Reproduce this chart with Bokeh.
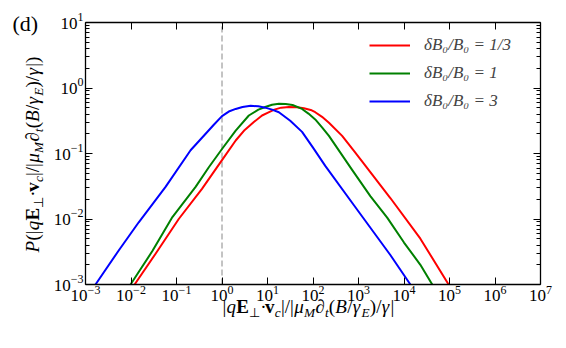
import numpy as np
from bokeh.plotting import figure
from bokeh.models import (Label, FixedTicker, LogAxis, Legend, LegendItem, Range1d,
                          PrintfTickFormatter)
from bokeh.embed import file_html
from bokeh.resources import INLINE

# ---------------- data ----------------
blue_x = [1.66e-3, 5.37e-3, 1.48e-2, 5.75e-2, 0.204, 0.437, 0.661, 1.0, 1.41, 2.0, 2.82,
          4.27, 6.31, 8.91, 12.6, 17.8, 31.6, 57.5, 100, 186, 794, 5010, 13800]
blue_y = [1.0e-3, 3.31e-3, 8.91e-3, 3.09e-2, 0.112, 0.200, 0.275, 0.372, 0.437, 0.479, 0.513,
          0.537, 0.525, 0.501, 0.468, 0.427, 0.316, 0.214, 0.123, 6.46e-2, 1.62e-2, 2.82e-3, 1.0e-3]

green_x = [9.77e-3, 2.95e-2, 8.13e-2, 0.263, 0.513, 1.0, 2.0, 3.89, 6.31, 8.91, 12.6, 17.8,
           25.1, 35.5, 57.5, 79.4, 112, 158, 224, 724, 1820, 4270, 10000, 22900, 41700]
green_y = [1.0e-3, 3.24e-3, 1.07e-2, 3.09e-2, 6.17e-2, 0.117, 0.224, 0.380, 0.468, 0.513, 0.556, 0.575,
           0.569, 0.550, 0.479, 0.407, 0.331, 0.251, 0.186, 5.62e-2, 2.24e-2, 1.05e-2, 4.37e-3,
           2.00e-3, 1.0e-3]

red_x = [1.20e-2, 3.47e-2, 0.112, 0.363, 1.0, 2.0, 3.16, 5.01, 7.59, 10.0, 14.1, 20.0, 29.5,
         44.7, 63.1, 89.1, 112, 158, 224, 437, 794, 1320, 5010, 22900, 95500]
red_y = [1.0e-3, 2.95e-3, 1.0e-2, 2.88e-2, 7.94e-2, 0.158, 0.229, 0.302, 0.380, 0.417, 0.468, 0.501,
         0.513, 0.507, 0.490, 0.462, 0.427, 0.363, 0.295, 0.186, 0.110, 6.92e-2, 2.09e-2, 5.01e-3,
         1.0e-3]

series_labels = ["δB₀/B₀ = 1/3", "δB₀/B₀ = 1", "δB₀/B₀ = 3"]
series_colors = ["#ff0000", "#008000", "#0000ff"]

x_lim = [1e-3, 1e7]
y_lim = [1e-3, 1e1]
ref_x = 1.0                      # dashed reference line
x_ticks = [1e-3, 1e-2, 1e-1, 1e0, 1e1, 1e2, 1e3, 1e4, 1e5, 1e6, 1e7]
x_tick_exps = ["−3", "−2", "−1", "0", "1", "2", "3", "4", "5", "6", "7"]
y_ticks = [1e-3, 1e-2, 1e-1, 1e0, 1e1]
y_tick_exps = ["−3", "−2", "−1", "0", "1"]
y_minor = [m * d for d in [1e-3, 1e-2, 1e-1, 1e0] for m in range(2, 10)]

FONT = "Liberation Serif"
W, H = 560, 342
FL, FT, FR, FB = 85, 22, 540, 284   # plot box edges in canvas pixels
BL = 0.3                            # baseline correction (em) for rendered text

# extend the ranges so that the plot box sits at FL..FR, FT..FB of a full-canvas frame
lx0, lx1 = np.log10(x_lim)
ly0, ly1 = np.log10(y_lim)
dpx = (FR - FL) / (lx1 - lx0)
dpy = (FB - FT) / (ly1 - ly0)
xr = Range1d(10 ** (lx0 - FL / dpx), 10 ** (lx1 + (W - FR) / dpx))
yr = Range1d(10 ** (ly0 - (H - FB) / dpy), 10 ** (ly1 + FT / dpy))

p = figure(width=W, height=H, x_axis_type="log", y_axis_type="log",
           x_range=xr, y_range=yr, x_axis_location=None, y_axis_location=None,
           output_backend="svg", toolbar_location=None,
           min_border_left=0, min_border_right=0, min_border_top=0, min_border_bottom=0)
p.grid.visible = False
p.outline_line_color = None
p.background_fill_color = "white"
p.border_fill_color = "white"

p.segment(x0=[ref_x], y0=[y_lim[0]], x1=[ref_x], y1=[y_lim[1]], line_color="#888888",
          line_dash="6 3", line_width=1)

r_red = p.line(red_x, red_y, line_color=series_colors[0], line_width=2, line_join="round")
r_green = p.line(green_x, green_y, line_color=series_colors[1], line_width=2, line_join="round")
r_blue = p.line(blue_x, blue_y, line_color=series_colors[2], line_width=2, line_join="round")

xt = FixedTicker(ticks=x_ticks, minor_ticks=[])
yt = FixedTicker(ticks=y_ticks, minor_ticks=y_minor)

axes = [
    (LogAxis(ticker=xt, fixed_location=y_lim[0], bounds=tuple(x_lim)), "below"),
    (LogAxis(ticker=xt, fixed_location=y_lim[1], bounds=tuple(x_lim)), "above"),
    (LogAxis(ticker=yt, fixed_location=x_lim[0], bounds=tuple(y_lim)), "left"),
    (LogAxis(ticker=yt, fixed_location=x_lim[1], bounds=tuple(y_lim)), "right"),
]
for ax, side in axes:
    ax.formatter = PrintfTickFormatter(format=" ")
    ax.axis_line_color = "black"
    ax.axis_line_width = 1.3
    ax.major_tick_in = 7
    ax.major_tick_out = 0
    ax.minor_tick_in = 4
    ax.minor_tick_out = 0
    ax.major_tick_line_width = 1
    ax.minor_tick_line_width = 1
    ax.major_label_text_font_size = "8px"
    ax.major_label_text_color = None
    ax.major_label_standoff = 0
    p.add_layout(ax, side)


def fx(cx):   # canvas x -> screen x
    return cx


def fy(cy):   # canvas y (from top) -> screen y (from bottom)
    return H - cy


# ---------------- tick labels (10 + exponent) ----------------
BASE_FS, EXP_FS = 17, 12
DIGIT_W, MINUS_W = 0.5, 0.564


def exp_width(e):
    return sum(MINUS_W if ch == "−" else DIGIT_W for ch in e) * EXP_FS


for t, e in zip(x_ticks, x_tick_exps):
    total = DIGIT_W * 2 * BASE_FS + exp_width(e)
    left = -total / 2
    p.add_layout(Label(x=t, y=fy(300) + BL * BASE_FS, x_units="data", y_units="screen",
                       text="10", x_offset=left, text_font=FONT,
                       text_font_size=f"{BASE_FS}px", text_align="left",
                       text_baseline="alphabetic", text_color="black"))
    p.add_layout(Label(x=t, y=fy(293) + BL * EXP_FS, x_units="data", y_units="screen", text=e,
                       x_offset=left + DIGIT_W * 2 * BASE_FS, text_font=FONT,
                       text_font_size=f"{EXP_FS}px", text_align="left",
                       text_baseline="alphabetic", text_color="black"))

for t, e in zip(y_ticks, y_tick_exps):
    p.add_layout(Label(x=fx(83), y=t, x_units="screen", y_units="data", text=e,
                       y_offset=2 + BL * EXP_FS, text_font=FONT,
                       text_font_size=f"{EXP_FS}px", text_align="right",
                       text_baseline="alphabetic", text_color="black"))
    p.add_layout(Label(x=fx(83) - exp_width(e), y=t, x_units="screen", y_units="data",
                       text="10", y_offset=-6 + BL * BASE_FS, text_font=FONT,
                       text_font_size=f"{BASE_FS}px", text_align="right",
                       text_baseline="alphabetic", text_color="black"))

legend = Legend(items=[LegendItem(label=series_labels[0], renderers=[r_red]),
                       LegendItem(label=series_labels[1], renderers=[r_green]),
                       LegendItem(label=series_labels[2], renderers=[r_blue])],
                location=(fx(369), fy(111)), glyph_width=41, glyph_height=20, label_height=20,
                label_standoff=14, spacing=8, padding=0, margin=0,
                border_line_alpha=0, background_fill_alpha=0,
                label_text_font=FONT, label_text_font_size="17px",
                label_text_font_style="italic")
p.add_layout(legend)

# ---------------- composite math axis labels ----------------
FS = 19
core_runs = [
    ("q", "italic", False, 0.500), ("E", "bold", False, 0.667), ("⊥", "normal", True, 0.80),
    ("·", "normal", False, 0.250), ("v", "bold", False, 0.500), ("c", "italic", True, 0.444),
    ("|/|", "normal", False, 0.678), ("μ", "italic", False, 0.500), ("M", "italic", True, 0.833),
    ("∂", "italic", False, 0.494), ("t", "italic", True, 0.278), ("(", "normal", False, 0.333),
    ("B", "italic", False, 0.611), ("/", "normal", False, 0.278), ("γ", "italic", False, 0.45),
    ("E", "italic", True, 0.611), (")/", "normal", False, 0.611), ("γ", "italic", False, 0.45),
]
x_runs = [("|", "normal", False, 0.2)] + core_runs + [("|", "normal", False, 0.2)]
y_runs = [("P", "italic", False, 0.611), ("(|", "normal", False, 0.533)] + core_runs + \
         [("|)", "normal", False, 0.533)]


def place(runs, start, base, length, vertical):
    natural = sum(w * (FS * 0.7 if sub else FS) for _, _, sub, w in runs)
    scale = length / natural
    pos = start
    for text, style, sub, w in runs:
        fs = FS * 0.7 if sub else FS
        shift = (0.22 * FS if sub else 0.0) - BL * fs
        common = dict(x_units="screen", y_units="screen", text=text, text_font=FONT,
                      text_font_size=f"{fs:.1f}px", text_font_style=style,
                      text_baseline="alphabetic", text_align="left", text_color="black")
        if vertical:
            p.add_layout(Label(x=base + shift, y=pos, angle=np.pi / 2, **common))
        else:
            p.add_layout(Label(x=pos, y=base - shift, **common))
        pos += w * fs * scale


place(x_runs, fx(222), fy(312), 172, False)
place(y_runs, fy(252), fx(38), 196, True)

p.add_layout(Label(x=fx(12), y=fy(30) + BL * 22, x_units="screen", y_units="screen",
                   text="(d)", text_font=FONT, text_font_size="22px",
                   text_baseline="alphabetic", text_color="black"))

open("out.html", "w").write(file_html(p, INLINE))
